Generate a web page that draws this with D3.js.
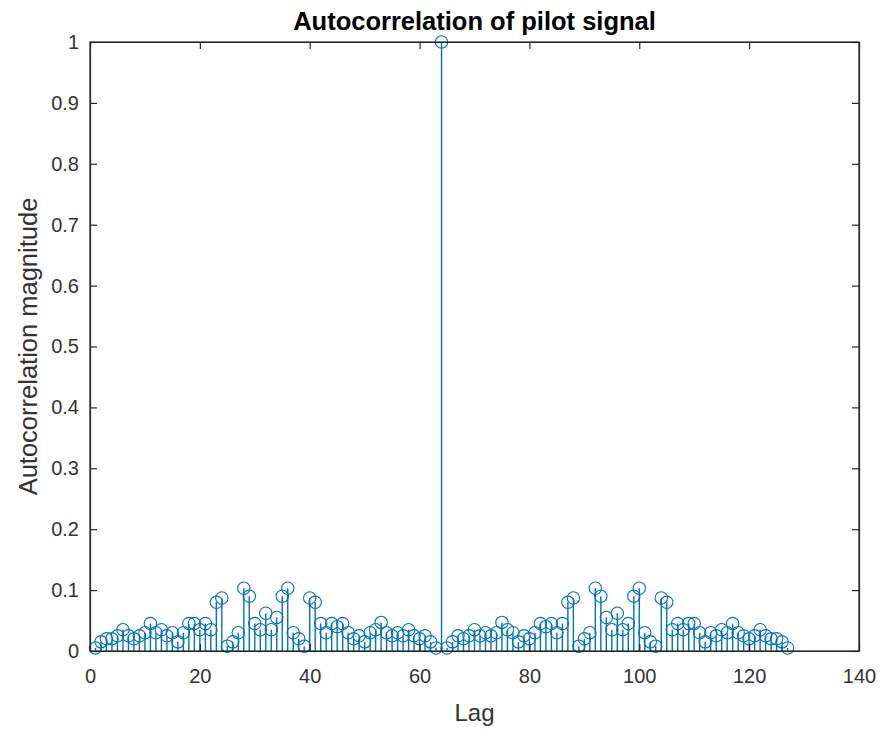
<!DOCTYPE html>
<html>
<head>
<meta charset="utf-8">
<script src="https://cdn.jsdelivr.net/npm/d3@7"></script>
<style>
  body { margin: 0; background: #fff; }
  svg { display: block; font-family: "Liberation Sans", Arial, Helvetica, sans-serif; }
</style>
</head>
<body>
<svg id="chart" width="883" height="730"></svg>
<script>
// Autocorrelation magnitude, lags 1..63 (the sequence is symmetric about lag 64)
const halfValues = [
  0.005, 0.015, 0.020, 0.020, 0.025, 0.035, 0.025, 0.020, 0.025, 0.030,
  0.045, 0.030, 0.035, 0.025, 0.030, 0.015, 0.030, 0.045, 0.045, 0.035,
  0.045, 0.035, 0.080, 0.087, 0.008, 0.015, 0.030, 0.103, 0.090, 0.045,
  0.035, 0.062, 0.035, 0.055, 0.090, 0.103, 0.030, 0.020, 0.008, 0.087,
  0.080, 0.045, 0.030, 0.045, 0.040, 0.045, 0.030, 0.020, 0.025, 0.015,
  0.030, 0.035, 0.047, 0.030, 0.025, 0.030, 0.025, 0.035, 0.025, 0.020,
  0.025, 0.015, 0.005
];
const peakValue = 1;
const xTicks = [0, 20, 40, 60, 80, 100, 120, 140];
const yTicks = [0, 0.1, 0.2, 0.3, 0.4, 0.5, 0.6, 0.7, 0.8, 0.9, 1];

(function draw() {
  // Full series: lags 1..127
  const values = halfValues.concat([peakValue], halfValues.slice().reverse());
  const data = values.map((v, i) => ({ lag: i + 1, value: v }));

  const svg = d3.select("#chart");
  const mLeft = 90, mRight = 859, mTop = 42, mBottom = 651;
  const axisColor = "#262626";
  const stemColor = "#0072BD";

  const x = d3.scaleLinear().domain([0, 140]).range([mLeft, mRight]);
  const y = d3.scaleLinear().domain([0, 1]).range([mBottom, mTop]);

  // Stems
  svg.append("g").selectAll("line").data(data).join("line")
    .attr("x1", d => x(d.lag)).attr("x2", d => x(d.lag))
    .attr("y1", y(0)).attr("y2", d => y(d.value))
    .attr("stroke", stemColor).attr("stroke-width", 1.4);

  // Circle markers
  svg.append("g").selectAll("circle").data(data).join("circle")
    .attr("cx", d => x(d.lag)).attr("cy", d => y(d.value))
    .attr("r", 6.2)
    .attr("fill", "none").attr("stroke", stemColor).attr("stroke-width", 1.1);

  // Box
  svg.append("rect")
    .attr("x", mLeft).attr("y", mTop)
    .attr("width", mRight - mLeft).attr("height", mBottom - mTop)
    .attr("fill", "none").attr("stroke", axisColor).attr("stroke-width", 1.2);

  // Axes with inward ticks
  const xAxis = d3.axisBottom(x).tickValues(xTicks).tickSizeInner(-7).tickSizeOuter(0).tickPadding(18);
  svg.append("g").attr("transform", `translate(0,${mBottom})`).call(xAxis);
  const xAxisTop = d3.axisTop(x).tickValues(xTicks).tickSizeInner(-7).tickSizeOuter(0).tickFormat("");
  svg.append("g").attr("transform", `translate(0,${mTop})`).call(xAxisTop);

  const yAxis = d3.axisLeft(y).tickValues(yTicks).tickSizeInner(-7).tickSizeOuter(0).tickPadding(11)
    .tickFormat(d => d3.format("~g")(d));
  svg.append("g").attr("transform", `translate(${mLeft},0)`).call(yAxis);
  const yAxisRight = d3.axisRight(y).tickValues(yTicks).tickSizeInner(-7).tickSizeOuter(0).tickFormat("");
  svg.append("g").attr("transform", `translate(${mRight},0)`).call(yAxisRight);

  svg.selectAll(".domain").attr("stroke", axisColor).attr("stroke-width", 1.2);
  svg.selectAll(".tick line").attr("stroke", axisColor).attr("stroke-width", 1.2);
  svg.selectAll(".tick text").attr("fill", "#333").attr("font-size", 20)
    .attr("font-family", "'Liberation Sans', Arial, sans-serif");

  // Title and axis labels
  svg.append("text")
    .attr("x", (mLeft + mRight) / 2).attr("y", 30)
    .attr("text-anchor", "middle").attr("font-size", 25.5).attr("font-weight", "bold")
    .attr("fill", "#000")
    .text("Autocorrelation of pilot signal");

  svg.append("text")
    .attr("x", (mLeft + mRight) / 2).attr("y", 721)
    .attr("text-anchor", "middle").attr("font-size", 24).attr("fill", "#333")
    .text("Lag");

  svg.append("text")
    .attr("transform", `translate(37,${(mTop + mBottom) / 2}) rotate(-90)`)
    .attr("text-anchor", "middle").attr("font-size", 25.5).attr("fill", "#333")
    .text("Autocorrelation magnitude");
})();
</script>
</body>
</html>
